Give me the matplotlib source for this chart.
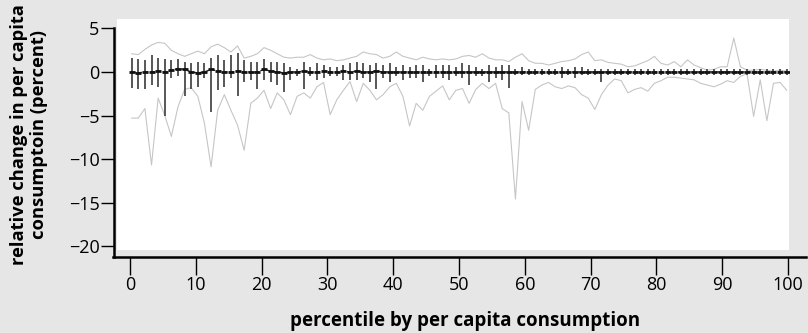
import matplotlib.pyplot as plt
import numpy as np

# percentile positions (100 groups)
pct = np.linspace(0.25, 99.8, 100)

# upper / lower grey envelope lines
upper = [2.1, 2.0, 2.6, 3.1, 3.4, 3.3, 2.5, 2.1, 1.8, 2.1,
         2.4, 2.1, 2.9, 3.2, 2.8, 2.3, 3.0, 1.6, 1.8, 2.1,
         2.8, 2.5, 2.1, 1.7, 1.6, 1.7, 1.7, 2.0, 1.6, 1.4,
         1.5, 1.3, 1.4, 1.6, 1.8, 2.3, 2.1, 2.0, 1.6, 1.8,
         2.3, 1.8, 1.6, 1.4, 1.7, 1.5, 1.4, 1.5, 1.4, 1.5,
         1.8, 1.9, 1.7, 2.1, 1.6, 1.4, 1.4, 1.2, 1.7, 2.1,
         1.3, 1.0, 1.0, 0.8, 1.0, 1.2, 1.3, 1.5, 2.0, 2.3,
         1.3, 1.4, 1.1, 1.0, 0.9, 0.6, 0.7, 1.0, 1.3, 1.8,
         1.0, 0.8, 1.2, 0.6, 1.4, 0.8, 0.5, 0.2, 0.3, 0.6,
         0.6, 3.9, 0.6, 0.2, 0.2, 0.3, 0.2, 0.1, 0.2, 0.1]
lower = [-5.3, -5.3, -4.2, -10.7, -3.0, -5.0, -7.4, -4.0, -2.0, -1.8,
         -2.8, -5.9, -10.9, -4.4, -2.6, -4.4, -6.1, -9.0, -3.6, -3.0,
         -2.1, -4.2, -2.4, -3.2, -4.9, -2.8, -2.4, -3.0, -1.7, -1.2,
         -4.9, -3.2, -2.1, -1.1, -3.4, -1.3, -2.1, -3.2, -2.6, -1.7,
         -1.3, -2.8, -6.2, -3.6, -4.4, -2.8, -2.2, -1.6, -3.2, -2.1,
         -1.9, -3.6, -2.0, -1.3, -1.9, -1.3, -4.2, -4.7, -14.6, -3.4,
         -6.7, -2.0, -1.5, -1.2, -1.7, -1.9, -1.6, -1.8, -2.6, -3.0,
         -4.3, -2.6, -1.5, -0.8, -1.0, -2.4, -2.0, -1.8, -2.2, -1.3,
         -1.0, -0.6, -0.6, -0.7, -0.8, -0.9, -1.3, -1.5, -1.7, -1.4,
         -1.0, -1.2, -0.5, -0.2, -5.1, -0.9, -5.6, -1.3, -1.2, -2.1]

# dark bars (box range) and medians
bar_hi = [1.6, 1.5, 1.4, 1.9, 1.6, 1.5, 1.4, 1.5, 1.2, 1.0,
          1.2, 1.0, 1.6, 1.9, 1.4, 1.9, 2.2, 1.4, 1.2, 1.2,
          1.5, 1.2, 1.2, 1.0, 0.6, 0.4, 1.2, 0.6, 1.0, 0.8,
          0.6, 0.6, 0.8, 1.0, 1.2, 1.0, 0.8, 1.0, 0.8, 1.0,
          0.6, 0.8, 0.6, 0.8, 0.8, 0.4, 0.8, 0.8, 0.8, 0.6,
          1.0, 0.8, 0.6, 0.4, 0.8, 0.6, 0.8, 0.8, 0.4, 0.6,
          0.4, 0.4, 0.4, 0.4, 0.4, 0.6, 0.4, 0.6, 0.6, 0.4,
          0.4, 0.4, 0.4, 0.4, 0.3, 0.4, 0.4, 0.3, 0.4, 0.4,
          0.3, 0.4, 0.4, 0.3, 0.4, 0.4, 0.3, 0.4, 0.4, 0.3,
          0.4, 0.3, 0.3, 0.4, 0.3, 0.3, 0.4, 0.3, 0.3, 0.3]
bar_lo = [-1.8, -1.9, -2.0, -1.5, -1.7, -5.1, -0.7, -0.5, -2.8, -1.9,
          -1.7, -0.7, -4.6, -2.1, -1.7, -0.7, -2.8, -1.1, -0.9, -1.9,
          -0.9, -1.1, -1.5, -2.3, -0.9, -0.5, -1.9, -0.5, -0.9, -0.7,
          -0.5, -0.5, -0.9, -0.9, -0.9, -0.7, -1.1, -1.9, -0.7, -1.1,
          -0.5, -0.9, -0.7, -0.7, -1.1, -0.5, -0.7, -0.7, -0.9, -0.5,
          -0.7, -1.5, -0.5, -0.5, -1.1, -0.7, -0.9, -1.8, -0.4, -0.4,
          -0.4, -0.4, -0.4, -0.4, -0.4, -0.7, -0.4, -0.7, -0.4, -0.4,
          -0.4, -1.1, -0.3, -0.3, -0.3, -0.3, -0.3, -0.3, -0.3, -0.3,
          -0.3, -0.3, -0.3, -0.3, -0.3, -0.3, -0.3, -0.3, -0.3, -0.3,
          -0.3, -0.3, -0.3, -0.3, -0.3, -0.3, -0.3, -0.3, -0.3, -0.3]
median = [0.0, -0.1, 0.0, 0.0, 0.1, 0.0, 0.2, 0.4, 0.3, 0.0,
          -0.1, 0.0, 0.3, 0.1, 0.0, 0.0, 0.1, 0.0, 0.0, 0.0,
          0.3, 0.1, 0.0, -0.1, 0.0, 0.0, 0.1, 0.0, 0.0, 0.1,
          0.0, 0.0, 0.1, 0.0, 0.1, 0.0, 0.0, 0.1, 0.0, 0.0,
          0.0, 0.0, 0.0, 0.0, 0.0, 0.0, 0.0, 0.0, 0.0, 0.0,
          0.0, 0.0, 0.0, 0.0, 0.0, 0.0, 0.0, 0.0, 0.0, 0.0,
          0.0, 0.0, 0.0, 0.0, 0.0, 0.0, 0.0, 0.0, 0.0, 0.0,
          0.0, 0.0, 0.0, 0.0, 0.0, 0.0, 0.0, 0.0, 0.0, 0.0,
          0.0, 0.0, 0.0, 0.0, 0.0, 0.0, 0.0, 0.0, 0.0, 0.0,
          0.0, 0.0, 0.0, 0.0, 0.0, 0.0, 0.0, 0.0, 0.0, 0.0]

xticks = [0, 10, 20, 30, 40, 50, 60, 70, 80, 90, 100]
yticks = [5, 0, -5, -10, -15, -20]

plt.rcParams['font.family'] = ['Open Sans', 'DejaVu Sans']
plt.rcParams['axes.unicode_minus'] = True

bg = '#e6e6e6'
fig = plt.figure(figsize=(8.08, 3.33), dpi=100, facecolor=bg)
ax = fig.add_axes([0.1448, 0.2492, 0.8317, 0.6937])
ax.set_facecolor('white')

ax.plot(pct, upper, color='#c6c6c6', lw=0.8, zorder=2)
ax.plot(pct, lower, color='#c6c6c6', lw=0.8, zorder=2)
ax.vlines(pct, bar_lo, bar_hi, color='#4a4a4a', lw=1.3, zorder=3)
ax.plot(pct, median, color='#222222', lw=1.0, ls=(0, (3, 1.5)), zorder=4)
ax.plot(pct, median, ls='none', marker='_', ms=4, mew=2, color='#111111', zorder=4)

ax.set_xlim(-1.98, 100.15)
ax.set_ylim(-20.46, 6.09)

for s in ['top', 'right']:
    ax.spines[s].set_visible(False)
ax.spines['left'].set_position(('outward', 2.2))
ax.spines['bottom'].set_position(('outward', 5.0))
ax.spines['left'].set_bounds(-21.3, 5)
ax.spines['bottom'].set_bounds(-2.6, 102.7)
for s in ['left', 'bottom']:
    ax.spines[s].set_linewidth(1.8)
    ax.spines[s].set_color('black')

ax.set_xticks(xticks)
ax.set_yticks(yticks)
ax.tick_params(axis='y', direction='out', length=9.5, width=1, pad=1, labelsize=13)
ax.tick_params(axis='x', direction='out', length=13, width=1, pad=1, labelsize=13)

ax.set_xlabel('percentile by per capita consumption', fontsize=13.5, fontweight='bold', labelpad=12)
ax.xaxis.label.set_x(0.518)
ax.set_ylabel('relative change in per capita\nconsumptoin (percent)', fontsize=13.2,
              fontweight='bold', labelpad=15, linespacing=1.1)

fig.savefig('out.png', dpi=100, facecolor=bg)
